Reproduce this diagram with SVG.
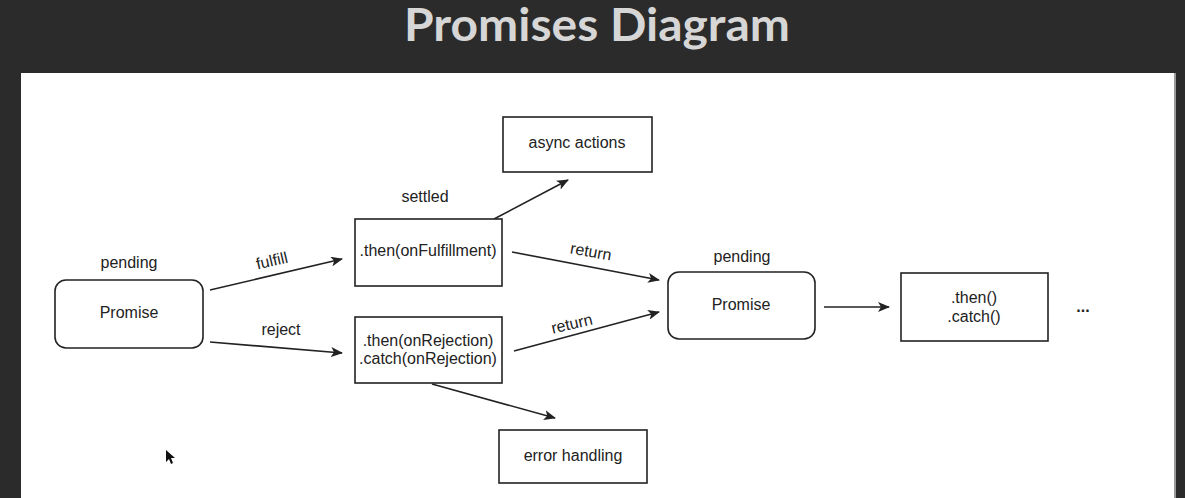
<svg xmlns="http://www.w3.org/2000/svg" width="1185" height="498" viewBox="0 0 1185 498">
<defs>
<style>
.t{font-family:"Liberation Sans",Arial,sans-serif;font-size:16px;fill:#222;text-anchor:middle}
.box{fill:#fff;stroke:#222;stroke-width:1.6}
.c{stroke:#222;stroke-width:1.6;fill:none;marker-end:url(#ah)}
</style>
<marker id="ah" viewBox="0 0 12 10" refX="11" refY="5" markerWidth="12" markerHeight="10" markerUnits="userSpaceOnUse" orient="auto">
<path d="M0,0 L12,5 L0,10 L3,5 z" fill="#222"/>
</marker>
</defs>
<rect x="0" y="0" width="1185" height="498" fill="#2b2b2b"/>
<rect x="21" y="73" width="1153" height="425" fill="#fff"/>
<rect x="1174" y="73" width="2" height="425" fill="#9a9a9a"/>
<text x="597" y="41" font-family="Lato,'Open Sans',sans-serif" font-weight="bold" font-size="45" textLength="386" lengthAdjust="spacingAndGlyphs" fill="#d6d6d6" text-anchor="middle">Promises Diagram</text>

<g id="connectors">
<line class="c" x1="210" y1="290" x2="342" y2="259"/>
<line class="c" x1="210" y1="342" x2="342" y2="353"/>
<line class="c" x1="494" y1="219" x2="568" y2="180"/>
<line class="c" x1="512" y1="252" x2="659" y2="280"/>
<line class="c" x1="514" y1="351" x2="659" y2="312"/>
<line class="c" x1="432" y1="384" x2="555" y2="418"/>
<line class="c" x1="824" y1="307" x2="889" y2="307"/>
<text class="t" transform="translate(273,266) rotate(-13)">fulfill</text>
<text class="t" x="281" y="335">reject</text>
<text class="t" transform="translate(590,257) rotate(10)">return</text>
<text class="t" transform="translate(573,329) rotate(-13)">return</text>
</g>

<g id="promise1">
<text class="t" x="129" y="268">pending</text>
<rect class="box" x="55" y="280" width="148" height="68" rx="11"/>
<text class="t" x="129" y="318">Promise</text>
</g>

<g id="thenFulfill">
<text class="t" x="425" y="202">settled</text>
<rect class="box" x="355" y="219" width="147" height="67"/>
<text class="t" x="428" y="256">.then(onFulfillment)</text>
</g>

<g id="asyncActions">
<rect class="box" x="503" y="117" width="149" height="55"/>
<text class="t" x="577" y="148">async actions</text>
</g>

<g id="thenReject">
<rect class="box" x="355" y="317" width="147" height="66"/>
<text class="t" x="428" y="346">.then(onRejection)</text>
<text class="t" x="428" y="364">.catch(onRejection)</text>
</g>

<g id="errorHandling">
<rect class="box" x="499" y="430" width="148" height="53"/>
<text class="t" x="573" y="461">error handling</text>
</g>

<g id="promise2">
<text class="t" x="742" y="262">pending</text>
<rect class="box" x="668" y="272" width="147" height="67" rx="11"/>
<text class="t" x="741" y="310">Promise</text>
</g>

<g id="thenCatch">
<rect class="box" x="901" y="273" width="147" height="68"/>
<text class="t" x="974" y="303">.then()</text>
<text class="t" x="974" y="322">.catch()</text>
</g>

<g id="ellipsis">
<text class="t" x="1083" y="312" font-weight="bold">...</text>
</g>

<polygon points="166,450 166,462 169,459 171,464 173,463 171,458 175,458" fill="#111"/>
</svg>
